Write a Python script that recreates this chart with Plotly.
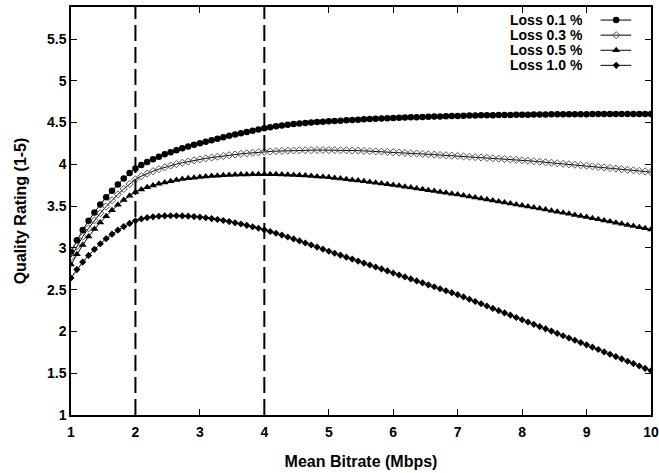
import numpy as np
import plotly.graph_objects as go

# ---- data ----
bitrate = np.linspace(1, 10, 100)  # 100 gnuplot samples, Mbps

loss_01 = [
    2.95, 3.09, 3.215, 3.325, 3.425, 3.52, 3.605, 3.685, 3.76, 3.83, 3.895,
    3.95, 3.992, 4.029, 4.062, 4.092, 4.12, 4.146, 4.17, 4.192, 4.213, 4.233,
    4.252, 4.271, 4.289, 4.307, 4.324, 4.341, 4.357, 4.373, 4.388, 4.403, 4.418,
    4.432, 4.444, 4.455, 4.465, 4.474, 4.482, 4.489, 4.495, 4.501, 4.506, 4.511,
    4.515, 4.519, 4.523, 4.527, 4.531, 4.535, 4.539, 4.542, 4.545, 4.548, 4.551,
    4.554, 4.557, 4.56, 4.563, 4.565, 4.567, 4.569, 4.571, 4.573, 4.575, 4.577,
    4.579, 4.581, 4.583, 4.585, 4.586, 4.587, 4.588, 4.589, 4.59, 4.591, 4.592,
    4.593, 4.594, 4.595, 4.596, 4.597, 4.598, 4.598, 4.599, 4.599, 4.6, 4.6,
    4.6, 4.601, 4.601, 4.601, 4.602, 4.602, 4.602, 4.602, 4.602, 4.602, 4.602,
    4.602,
]
loss_03 = [
    2.89, 3.02, 3.135, 3.235, 3.33, 3.415, 3.495, 3.57, 3.64, 3.705, 3.765,
    3.82, 3.858, 3.89, 3.918, 3.943, 3.965, 3.985, 4.003, 4.019, 4.034, 4.048,
    4.06, 4.071, 4.081, 4.091, 4.1, 4.109, 4.117, 4.125, 4.132, 4.139, 4.145,
    4.15, 4.154, 4.158, 4.161, 4.164, 4.166, 4.168, 4.169, 4.17, 4.171, 4.171,
    4.171, 4.17, 4.169, 4.168, 4.166, 4.164, 4.161, 4.158, 4.155, 4.152, 4.149,
    4.145, 4.141, 4.137, 4.133, 4.129, 4.125, 4.12, 4.116, 4.112, 4.108, 4.104,
    4.10, 4.095, 4.091, 4.086, 4.082, 4.077, 4.072, 4.068, 4.063, 4.058, 4.054,
    4.049, 4.043, 4.037, 4.031, 4.025, 4.019, 4.013, 4.007, 4.001, 3.995, 3.989,
    3.983, 3.976, 3.969, 3.963, 3.956, 3.949, 3.942, 3.935, 3.928, 3.921, 3.914,
    3.907,
]
loss_05 = [
    2.80, 2.925, 3.035, 3.135, 3.225, 3.305, 3.38, 3.45, 3.515, 3.572, 3.625,
    3.67, 3.70, 3.726, 3.748, 3.767, 3.784, 3.799, 3.812, 3.823, 3.832, 3.84,
    3.847, 3.853, 3.859, 3.864, 3.868, 3.872, 3.875, 3.877, 3.879, 3.88, 3.881,
    3.881, 3.881, 3.88, 3.878, 3.876, 3.873, 3.869, 3.865, 3.86, 3.855, 3.85,
    3.844, 3.837, 3.83, 3.822, 3.814, 3.806, 3.797, 3.789, 3.78, 3.771, 3.762,
    3.753, 3.743, 3.732, 3.722, 3.711, 3.701, 3.69, 3.68, 3.669, 3.659, 3.648,
    3.638, 3.626, 3.614, 3.603, 3.591, 3.579, 3.567, 3.555, 3.544, 3.532, 3.52,
    3.508, 3.495, 3.483, 3.47, 3.458, 3.445, 3.433, 3.42, 3.408, 3.395, 3.383,
    3.37, 3.356, 3.343, 3.329, 3.316, 3.302, 3.288, 3.275, 3.261, 3.248, 3.234,
    3.22,
]
loss_10 = [
    2.64, 2.74, 2.83, 2.91, 2.983, 3.05, 3.11, 3.164, 3.212, 3.255, 3.293,
    3.325, 3.347, 3.362, 3.372, 3.379, 3.383, 3.385, 3.385, 3.383, 3.38, 3.375,
    3.369, 3.361, 3.351, 3.34, 3.328, 3.315, 3.301, 3.286, 3.27, 3.253, 3.235,
    3.216, 3.196, 3.175, 3.153, 3.13, 3.107, 3.083, 3.059, 3.035, 3.01, 2.985,
    2.96, 2.936, 2.913, 2.889, 2.866, 2.842, 2.818, 2.795, 2.771, 2.748, 2.724,
    2.70, 2.676, 2.653, 2.629, 2.605, 2.582, 2.558, 2.535, 2.511, 2.487, 2.464,
    2.44, 2.413, 2.385, 2.358, 2.331, 2.304, 2.276, 2.249, 2.222, 2.195, 2.167,
    2.14, 2.113, 2.085, 2.058, 2.031, 2.004, 1.976, 1.949, 1.922, 1.895, 1.867,
    1.84, 1.812, 1.784, 1.755, 1.727, 1.699, 1.671, 1.643, 1.615, 1.586, 1.558,
    1.53,
]

series_names = ["Loss 0.1 %", "Loss 0.3 %", "Loss 0.5 %", "Loss 1.0 %"]
series_values = [loss_01, loss_03, loss_05, loss_10]
ref_bitrates = [2, 4]
x_ticks = list(range(1, 11))
y_ticks = [1, 1.5, 2, 2.5, 3, 3.5, 4, 4.5, 5, 5.5]

# ---- styles ----
FONT = "Liberation Sans, Arial, Helvetica, sans-serif"
marker_styles = [
    dict(symbol="circle", size=6.5, color="black"),
    dict(symbol="diamond-open", size=5.5, color="#555555", line=dict(width=1, color="#555555")),
    dict(symbol="triangle-up", size=7, color="black"),
    dict(symbol="diamond", size=5.5, color="black"),
]

fig = go.Figure()
for name, vals, ms in zip(series_names, series_values, marker_styles):
    fig.add_trace(go.Scatter(
        x=bitrate, y=vals, mode="lines+markers", name=name,
        line=dict(color="black", width=1), marker=ms, showlegend=False,
    ))

for xv in ref_bitrates:
    fig.add_shape(type="line", xref="x", yref="paper", x0=xv, x1=xv, y0=0, y1=1,
                  line=dict(color="black", width=2, dash="16px,6px"))

# gnuplot-style key: text right-aligned, sample to the right
key_rows = [0.968, 0.931, 0.894, 0.857]
for name, ms, yk in zip(series_names, marker_styles, key_rows):
    fig.add_trace(go.Scatter(
        x=[0.913, 0.966], y=[yk, yk], xaxis="x2", yaxis="y2", mode="lines",
        line=dict(color="black", width=1), showlegend=False, hoverinfo="skip"))
    fig.add_trace(go.Scatter(
        x=[0.94], y=[yk], xaxis="x2", yaxis="y2", mode="markers",
        marker=ms, showlegend=False, hoverinfo="skip"))
    fig.add_annotation(x=0.887, y=yk, xref="x2", yref="y2", text=name,
                       showarrow=False, xanchor="right", yanchor="middle",
                       font=dict(family=FONT, size=14, color="black", weight="bold"))

axis_common = dict(
    showline=True, linecolor="black", linewidth=1.5, mirror="ticks",
    ticks="inside", ticklen=6, tickwidth=1, tickcolor="black",
    showgrid=False, zeroline=False, automargin=False,
    tickfont=dict(family=FONT, size=14, color="black", weight="bold"),
)

fig.update_layout(
    width=659, height=473,
    margin=dict(l=71, r=8, t=7, b=58),
    paper_bgcolor="white", plot_bgcolor="white",
    font=dict(family=FONT, color="black"),
    xaxis=dict(range=[1, 10], tickvals=x_ticks, ticklabelstandoff=3,
               title=dict(text="Mean Bitrate (Mbps)", standoff=17,
                          font=dict(family=FONT, size=16, color="black", weight="bold")),
               **axis_common),
    yaxis=dict(range=[1, 5.883], tickvals=y_ticks, ticklabelstandoff=0,
               title=dict(text="Quality Rating (1-5)", standoff=16,
                          font=dict(family=FONT, size=16, color="black", weight="bold")),
               **axis_common),
    xaxis2=dict(overlaying="x", range=[0, 1], visible=False),
    yaxis2=dict(overlaying="y", range=[0, 1], visible=False),
)

fig.write_html("out.html", config={"displayModeBar": False},
               post_script="document.body.style.margin='0';document.body.style.overflow='hidden';")
